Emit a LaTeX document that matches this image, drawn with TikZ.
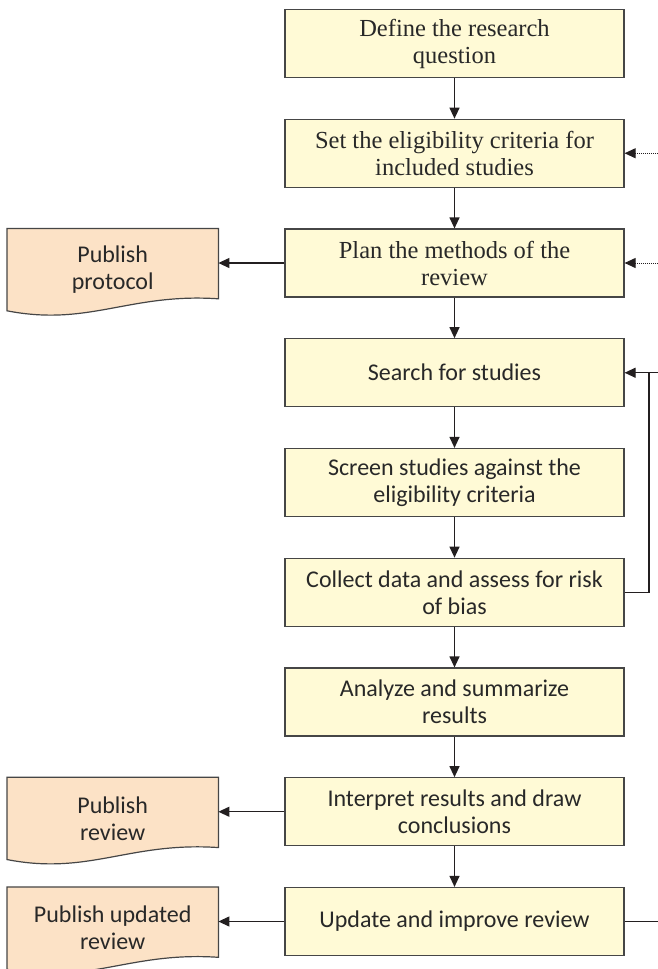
\documentclass[tikz,border=0pt]{standalone}
\usepackage{fontspec}
\setmainfont{Carlito}
\newfontfamily\timesfont{Liberation Serif}
\usetikzlibrary{arrows.meta}
\usetikzlibrary{backgrounds}
\usetikzlibrary{positioning,calc}
\definecolor{boxYellow}{RGB}{255,250,214}
\definecolor{docPeach}{RGB}{252,226,198}
\definecolor{borderGray}{RGB}{70,70,70}
\definecolor{lineDark}{RGB}{35,31,32}
\definecolor{textGray}{RGB}{40,40,40}

\begin{document}
\begin{tikzpicture}[x=1pt, y=1pt, node distance=109.75pt]
	%defines
	\tikzstyle{serifStep} = [rectangle, minimum width=339pt, minimum height=68pt, align=center, draw=borderGray, line width=1.2pt, fill=boxYellow, text=textGray, font=\timesfont\fontsize{24.5}{27}\selectfont]
	\tikzstyle{sansStep} = [rectangle, minimum width=339pt, minimum height=68pt, align=center, draw=borderGray, line width=1.2pt, fill=boxYellow, text=textGray, font=\fontsize{24}{27}\selectfont]
	\tikzstyle{publication} = [rectangle, minimum width=211pt, minimum height=82pt, inner sep=0pt, align=center, text=textGray, font=\fontsize{24}{27}\selectfont]
	\tikzstyle{pubShape} = [draw=borderGray, line width=1.2pt, fill=docPeach]
	\tikzstyle{arrow} = [line width=1.2pt, draw=lineDark, -{Triangle[length=11pt,width=10pt]}]
	\tikzstyle{plainLine} = [line width=1.2pt, draw=lineDark]
	\tikzstyle{inputArrow} = [line width=1pt, densely dotted, draw=lineDark, -{Triangle[length=11pt,width=10pt]}]
	\useasboundingbox (0,0) rectangle (658,-969);
	%chart
	\node (defineQuestion) [serifStep] at (454.5,-43.5) {Define the research\\question};
	\node (setCriteria) [serifStep, below of=defineQuestion] {Set the eligibility criteria for\\included studies};
	\node (planMethods) [serifStep, below of=setCriteria] {Plan the methods of the\\review};
	\node (searchStudies) [sansStep, below of=planMethods] {Search for studies};
	\node (screenStudies) [sansStep, below of=searchStudies] {Screen studies against the\\eligibility criteria};
	\node (collectData) [sansStep, below of=screenStudies] {Collect data and assess for risk\\of bias};
	\node (analyzeResults) [sansStep, below of=collectData] {Analyze and summarize\\results};
	\node (interpretResults) [sansStep, below of=analyzeResults] {Interpret results and draw\\conclusions};
	\node (updateReview) [sansStep, below of=interpretResults] {Update and improve review};
	%publications
	\node (publishProtocol) [publication, left=66pt of planMethods.north west, anchor=north east] {Publish\\protocol};
	\node (publishReview) [publication, left=66pt of interpretResults.north west, anchor=north east] {Publish\\review};
	\node (publishUpdated) [publication, left=66pt of updateReview.north west, anchor=north east] {Publish updated\\review};
	\begin{scope}[on background layer]
		\filldraw [pubShape] (publishProtocol.north west) -- (publishProtocol.north east) -- ([yshift=12pt]publishProtocol.south east) .. controls +(-89,6) and +(82,-16) .. (publishProtocol.south west) -- cycle;
		\filldraw [pubShape] (publishReview.north west) -- (publishReview.north east) -- ([yshift=12pt]publishReview.south east) .. controls +(-89,6) and +(82,-16) .. (publishReview.south west) -- cycle;
		\filldraw [pubShape] (publishUpdated.north west) -- (publishUpdated.north east) -- ([yshift=12pt]publishUpdated.south east) .. controls +(-89,6) and +(82,-16) .. (publishUpdated.south west) -- cycle;
	\end{scope}
	%main flow
	\draw [arrow] (defineQuestion) -- (setCriteria);
	\draw [arrow] (setCriteria) -- (planMethods);
	\draw [arrow] (planMethods) -- (searchStudies);
	\draw [arrow] (searchStudies) -- (screenStudies);
	\draw [arrow] (screenStudies) -- (collectData);
	\draw [arrow] (collectData) -- (analyzeResults);
	\draw [arrow] (analyzeResults) -- (interpretResults);
	\draw [arrow] (interpretResults) -- (updateReview);
	%to publications
	\draw [arrow] (planMethods.west) -- (planMethods.west -| publishProtocol.east);
	\draw [arrow] (interpretResults.west) -- (interpretResults.west -| publishReview.east);
	\draw [arrow] (updateReview.west) -- (updateReview.west -| publishUpdated.east);
	%inputs from the right
	\coordinate (criteriaEdge) at (setCriteria.east -| 658,0);
	\coordinate (methodsEdge) at (planMethods.east -| 658,0);
	\draw [inputArrow] (criteriaEdge) -- (setCriteria);
	\draw [inputArrow] (methodsEdge) -- (planMethods);
	%loop back
	\coordinate (searchEdge) at (searchStudies.east -| 658,0);
	\coordinate (loopCorner) at ($(searchEdge)+(-9,0)$);
	\draw [arrow] (searchEdge) -- (searchStudies);
	\draw [plainLine] (collectData.east) -| (loopCorner);
	\coordinate (updateEdge) at (updateReview.east -| 658,0);
	\draw [plainLine] (updateReview) -- (updateEdge);
\end{tikzpicture}
\end{document}
